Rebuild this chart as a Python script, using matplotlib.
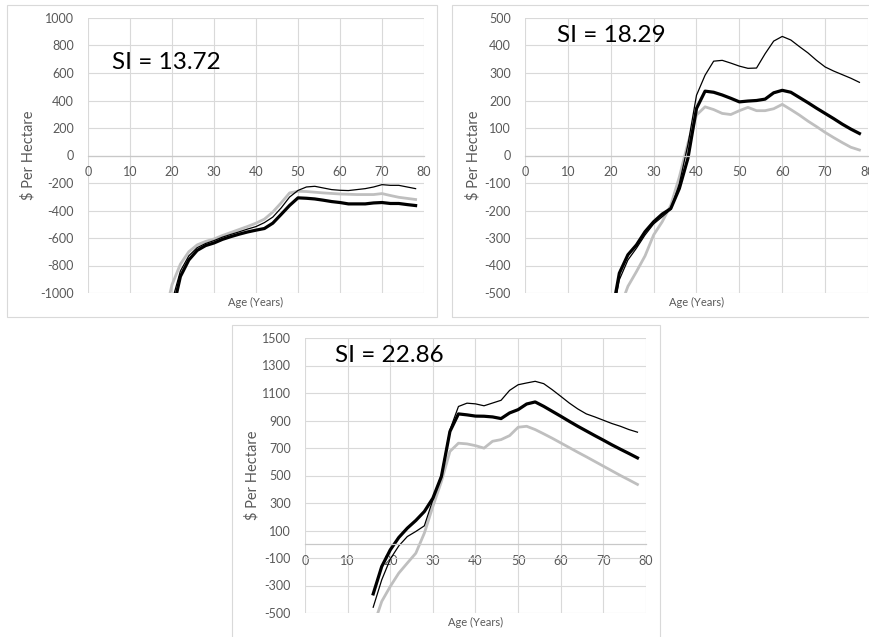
import matplotlib
matplotlib.use("Agg")
import matplotlib.pyplot as plt
from matplotlib.patches import Rectangle

plt.rcParams['font.family'] = ['Lato', 'DejaVu Sans']
plt.rcParams['axes.unicode_minus'] = False

# ---- data: net value ($ per hectare) by stand age, three site indices ----
si_labels = ["SI = 13.72", "SI = 18.29", "SI = 22.86"]

ages_a = list(range(18, 80, 2))
thin_a = [-1250, -1060, -840, -730, -670, -640, -619, -594, -574, -555, -535,
          -517, -488, -448, -381, -302, -254, -229, -224, -236, -248, -253,
          -255, -248, -241, -229, -212, -217, -217, -229, -241]
thick_a = [-1400, -1150, -880, -760, -690, -655, -636, -610, -590, -572, -556,
           -543, -531, -492, -428, -363, -308, -311, -316, -325, -335, -342,
           -352, -352, -352, -345, -342, -349, -349, -357, -364]
grey_a = [-1200, -940, -790, -700, -650, -625, -607, -582, -560, -538, -516,
          -492, -463, -411, -344, -272, -260, -262, -267, -272, -276, -280,
          -282, -284, -284, -284, -277, -291, -304, -312, -320]

ages_b = list(range(20, 80, 2))
thin_b = [-620, -452, -380, -337, -289, -249, -223, -196, -102, 40, 219, 292,
          343, 346, 336, 325, 317, 318, 370, 416, 433, 420, 396, 373, 346, 322,
          307, 294, 281, 266]
thick_b = [-600, -428, -361, -325, -277, -241, -213, -193, -120, -10, 171, 234,
           230, 220, 208, 195, 198, 200, 205, 228, 237, 230, 211, 192, 172, 153,
           134, 114, 96, 80]
grey_b = [-700, -560, -476, -422, -365, -289, -241, -181, -78, 45, 147, 177,
          167, 153, 149, 163, 175, 163, 163, 170, 186, 167, 147, 125, 105, 84,
          65, 47, 30, 20]

ages_c = list(range(16, 80, 2))
thin_c = [-458, -259, -108, -12, 56, 93, 134, 323, 505, 832, 1002, 1026, 1021,
          1007, 1027, 1047, 1119, 1160, 1173, 1185, 1168, 1124, 1076, 1027, 984,
          948, 926, 902, 878, 858, 834, 815]
thick_c = [-361, -162, -41, 49, 117, 173, 238, 335, 493, 820, 948, 941, 932,
           931, 926, 914, 955, 979, 1020, 1035, 1003, 967, 931, 894, 858, 824,
           790, 757, 723, 691, 660, 628]
grey_c = [-600, -416, -307, -210, -137, -65, 81, 275, 456, 675, 735, 730, 717,
          699, 749, 761, 790, 851, 858, 834, 803, 771, 737, 703, 669, 636, 602,
          568, 534, 500, 468, 435]

y_ranges = [(-1000, 1000, 200), (-500, 500, 100), (-500, 1500, 200)]
x_ticks = [0, 10, 20, 30, 40, 50, 60, 70, 80]

W, H = 870, 637
fig = plt.figure(figsize=(W / 100, H / 100), dpi=100)

def fx(px):
    return px / W

def fy(py):
    return 1 - py / H

# axes boxes in pixel terms: (left, top, right, bottom)
axes_px = [(88, 18, 424, 293), (525, 18, 868, 293), (305, 338, 646, 613)]
frame_px = [(7, 5, 437, 317), (452, 5, 885, 317), (232, 325, 660, 655)]
si_pos = [(0.0705, 0.8145), (0.0924, 0.914), (0.088, 0.912)]
ylab_x = [28, 473, 252]

series = [(ages_a, thin_a, thick_a, grey_a),
          (ages_b, thin_b, thick_b, grey_b),
          (ages_c, thin_c, thick_c, grey_c)]

text_grey = '#595959'
grid_grey = '#d9d9d9'

for i in range(3):
    l, t, r, b = axes_px[i]
    fl, ft, fr, fb = frame_px[i]
    fig.patches.append(Rectangle((fx(fl), fy(fb)), fx(fr - fl), (fb - ft) / H,
                                 transform=fig.transFigure, fill=False,
                                 edgecolor=grid_grey, lw=0.8))
    ax = fig.add_axes([fx(l), fy(b), fx(r - l), (b - t) / H])
    ages, thin, thick, grey = series[i]
    ax.plot(ages, grey, color='#bfbfbf', lw=2.0, solid_joinstyle='round')
    ax.plot(ages, thin, color='black', lw=0.9, solid_joinstyle='round')
    ax.plot(ages, thick, color='black', lw=2.3, solid_joinstyle='round')

    y0, y1, step = y_ranges[i]
    ax.set_ylim(y0, y1)
    ax.set_xlim(0, 80)
    ax.set_yticks(list(range(y0, y1 + 1, step)))
    ax.set_xticks(x_ticks)
    ax.grid(True, color=grid_grey, lw=0.8)
    ax.set_axisbelow(True)
    for s in ('top', 'right', 'left'):
        ax.spines[s].set_visible(False)
    ax.spines['bottom'].set_position(('data', 0))
    ax.spines['bottom'].set_color('#c8c8c8')
    ax.spines['bottom'].set_linewidth(0.9)
    ax.tick_params(axis='both', length=0, colors=text_grey, labelsize=9)
    ax.tick_params(axis='y', pad=10)
    ax.tick_params(axis='x', pad=7.5)
    ax.patch.set_alpha(0)

    ax.text(si_pos[i][0], si_pos[i][1], si_labels[i], transform=ax.transAxes,
            fontsize=17.5, ha='left', va='baseline', color='black')
    ax.text(0.5, -0.036, "Age (Years)", transform=ax.transAxes, ha='center',
            va='center', fontsize=8, color=text_grey)
    fig.text(fx(ylab_x[i]), fy((t + b) / 2), "$ Per Hectare", rotation=90,
             ha='center', va='center', fontsize=10.5, color=text_grey)

fig.savefig("out.png", dpi=100)
